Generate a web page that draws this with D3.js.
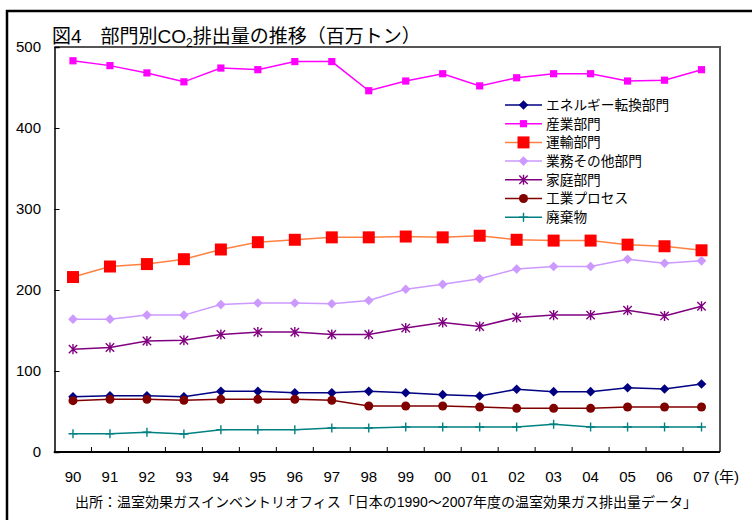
<!DOCTYPE html>
<html>
<head>
<meta charset="utf-8">
<script src="https://cdn.jsdelivr.net/npm/d3@7"></script>
<style>
  body { margin: 0; background: #fff; }
  svg text { font-family: "Liberation Sans", Arial, "Noto Sans CJK JP", sans-serif; fill: #000; }
</style>
</head>
<body>
<div id="chart"></div>
<script>
//***************** data *******************/
var years = ["90","91","92","93","94","95","96","97","98","99","00","01","02","03","04","05","06","07"];
var yTicks = [0, 100, 200, 300, 400, 500];

var energy      = [68.3,69.5,69.5,68.3,74.9,74.9,73.2,73.2,74.9,73.2,70.8,69.1,77.4,74.5,74.5,79.4,77.8,84.0];
var industry    = [483,477,468,457,474,472,482,482,446,458,467,452,462,467,467,458,459,472];
var transport   = [216,229,232,238,250,259,262,265,265,266,265,267,262,261,261,256,254,249];
var commercial  = [164,164,169,169,182,184,184,183,187,201,207,214,226,229,229,238,233,236];
var residential = [127,129,137,138,145,148,148,145,145,153,160,155,166,169,169,175,168,180];
var process     = [63.4,65,65,63.8,65,65,65,63.8,56.8,56.8,56.8,55.6,53.9,53.9,53.9,55.6,55.6,55.6];
var waste       = [22.6,22.6,24.3,22.2,27.6,27.6,27.6,29.6,29.6,30.9,30.9,30.9,30.9,34.2,30.9,30.9,30.9,30.9];

var names = ["エネルギー転換部門","産業部門","運輸部門","業務その他部門","家庭部門","工業プロセス","廃棄物"];

//************* custom marker shapes ***************/
var diamond = { draw: function(c, r) { c.moveTo(0,-r); c.lineTo(r,0); c.lineTo(0,r); c.lineTo(-r,0); c.closePath(); } };
var square  = { draw: function(c, r) { c.rect(-r,-r,2*r,2*r); } };
var circle  = { draw: function(c, r) { c.moveTo(r,0); c.arc(0,0,r,0,2*Math.PI); } };
var aster   = { draw: function(c, r) { c.moveTo(-r,-r); c.lineTo(r,r); c.moveTo(r,-r); c.lineTo(-r,r); c.moveTo(0,-r*1.2); c.lineTo(0,r*1.2); } };
var plus    = { draw: function(c, r) { c.moveTo(-r,0); c.lineTo(r,0); c.moveTo(0,-r); c.lineTo(0,r); } };

var series = [
  {name: names[0], values: energy,      line: "#000080", mark: "#000080", shape: diamond, r: 4.8, stroke: false},
  {name: names[1], values: industry,    line: "#FF00FF", mark: "#FF00FF", shape: square,  r: 3.6, stroke: false},
  {name: names[2], values: transport,   line: "#FF8040", mark: "#FF0000", shape: square,  r: 6,   stroke: false},
  {name: names[3], values: commercial,  line: "#CC99FF", mark: "#CC99FF", shape: diamond, r: 4.8, stroke: false},
  {name: names[4], values: residential, line: "#800080", mark: "#800080", shape: aster,   r: 4.2, stroke: true},
  {name: names[5], values: process,     line: "#800000", mark: "#800000", shape: circle,  r: 4.5, stroke: false},
  {name: names[6], values: waste,       line: "#008080", mark: "#008080", shape: plus,    r: 4.5, stroke: true}
];

//************* set dimensions ***************/
var W = 752, H = 520;
var plot = {left: 54.5, right: 720, top: 47, bottom: 452};

var svg = d3.select("#chart").append("svg")
    .attr("width", W)
    .attr("height", H);

// outer border (runs off right/bottom edge)
svg.append("rect")
  .attr("x", 7).attr("y", 11)
  .attr("width", 760).attr("height", 520)
  .attr("fill", "none")
  .attr("stroke", "#000")
  .attr("stroke-width", 2.5);

//***************** scales *******************/
var x = d3.scaleBand()
  .domain(years)
  .range([plot.left, plot.right]);

var y = d3.scaleLinear()
  .domain([0, 500])
  .range([plot.bottom, plot.top]);

//***************** frame & axes *******************/
// top and right frame (gray)
svg.append("path")
  .attr("d", "M" + plot.left + "," + plot.top + "H" + plot.right + "V" + plot.bottom)
  .attr("fill", "none")
  .attr("stroke", "#555")
  .attr("stroke-width", 2);

// y axis
var yAxis = svg.append("g")
  .attr("transform", "translate(" + plot.left + ",0)")
  .call(d3.axisRight(y).tickValues(yTicks).tickSize(5).tickFormat(""));
yAxis.select(".domain").attr("stroke", "#000").attr("stroke-width", 1.5);
yAxis.selectAll(".tick line").attr("stroke", "#000");

svg.selectAll(".ylab")
  .data(yTicks)
  .enter().append("text")
  .attr("class", "ylab")
  .attr("x", 41)
  .attr("y", function(d) { return y(d); })
  .attr("dy", "0.36em")
  .attr("text-anchor", "end")
  .style("font-size", "15px")
  .text(function(d) { return d; });

// x axis ticks at band boundaries (pointing up)
svg.selectAll(".xtick")
  .data(years.slice(1))
  .enter().append("line")
  .attr("class", "xtick")
  .attr("x1", function(d) { return x(d); })
  .attr("x2", function(d) { return x(d); })
  .attr("y1", plot.bottom)
  .attr("y2", plot.bottom - 5)
  .attr("stroke", "#000");

svg.append("line")
  .attr("x1", plot.left - 0.75).attr("x2", plot.right)
  .attr("y1", plot.bottom).attr("y2", plot.bottom)
  .attr("stroke", "#000")
  .attr("stroke-width", 2);

svg.selectAll(".xlab")
  .data(years)
  .enter().append("text")
  .attr("class", "xlab")
  .attr("x", function(d) { return x(d) + x.bandwidth() / 2; })
  .attr("y", 482)
  .attr("text-anchor", "middle")
  .style("font-size", "15px")
  .text(function(d) { return d; });

svg.append("text")
  .attr("x", 714)
  .attr("y", 482)
  .style("font-size", "15px")
  .text("(年)");

//***************** lines & markers *******************/
var line = d3.line()
  .x(function(d, i) { return x(years[i]) + x.bandwidth() / 2; })
  .y(function(d) { return y(d); });

series.forEach(function(s) {
  svg.append("path")
    .datum(s.values)
    .attr("d", line)
    .attr("fill", "none")
    .attr("stroke", s.line)
    .attr("stroke-width", 1.5);

  svg.selectAll(null)
    .data(s.values)
    .enter().append("path")
    .attr("transform", function(d, i) {
      return "translate(" + (x(years[i]) + x.bandwidth() / 2) + "," + y(d) + ")";
    })
    .attr("d", d3.symbol().type(s.shape).size(s.r))
    .attr("fill", s.stroke ? "none" : s.mark)
    .attr("stroke", s.stroke ? s.mark : "none")
    .attr("stroke-width", 1.4);
});

//***************** legend *******************/
var legend = svg.selectAll(".legend")
  .data(series)
  .enter().append("g")
  .attr("class", "legend")
  .attr("transform", function(d, i) { return "translate(505," + (105 + i * 18.7) + ")"; });

legend.append("line")
  .attr("x1", 0).attr("x2", 37)
  .attr("stroke", function(d) { return d.line; })
  .attr("stroke-width", 1.5);

legend.append("path")
  .attr("transform", "translate(18.5,0)")
  .attr("d", function(d) { return d3.symbol().type(d.shape).size(d.r)(); })
  .attr("fill", function(d) { return d.stroke ? "none" : d.mark; })
  .attr("stroke", function(d) { return d.stroke ? d.mark : "none"; })
  .attr("stroke-width", 1.4);

legend.append("text")
  .attr("x", 41)
  .attr("dy", "0.36em")
  .style("font-size", "13.7px")
  .text(function(d) { return d.name; });

//***************** title & source *******************/
var title = svg.append("text")
  .attr("x", 52)
  .attr("y", 43)
  .style("font-size", "19px");
title.append("tspan").text("図4　部門別CO");
title.append("tspan").attr("dy", 4).style("font-size", "12px").text("2");
title.append("tspan").attr("dy", -4).text("排出量の推移（百万トン）");

svg.append("text")
  .attr("x", 75)
  .attr("y", 507)
  .style("font-size", "14px")
  .text("出所：温室効果ガスインベントリオフィス「日本の1990〜2007年度の温室効果ガス排出量データ」");
</script>
</body>
</html>
